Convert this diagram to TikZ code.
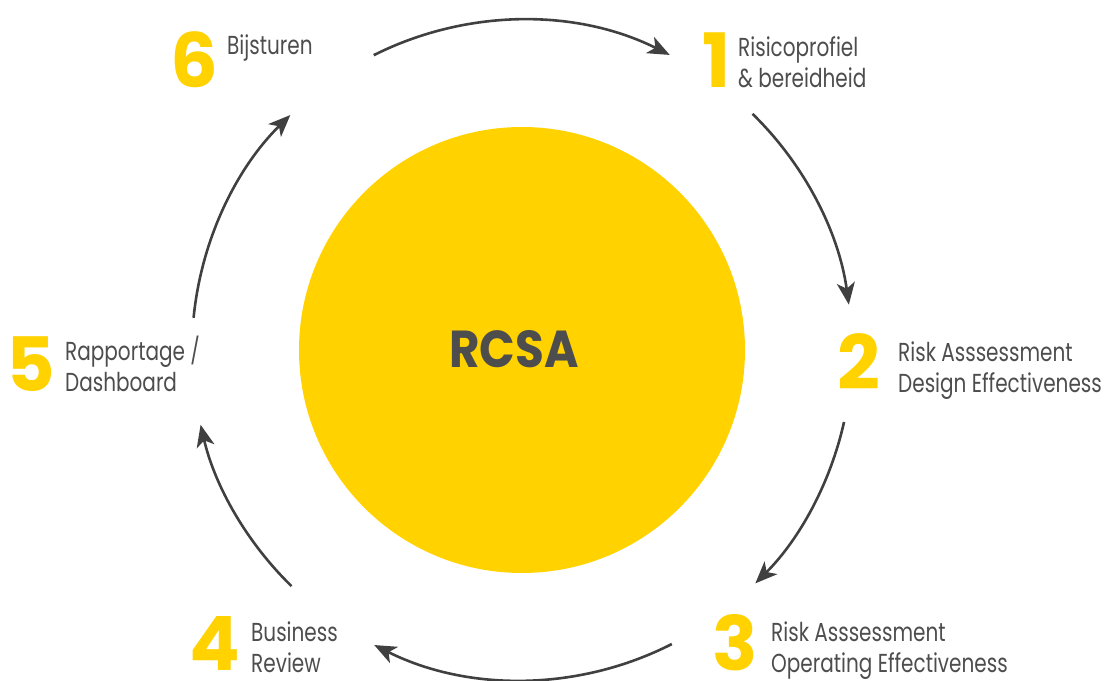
\documentclass[tikz,border=0pt]{standalone}
\usepackage{fontspec}
\setmainfont{Poppins}
\newfontfamily\labelfont{Poppins}[FakeStretch=0.77]
\newfontfamily\titlefont{Poppins}[FakeStretch=0.9]
\usetikzlibrary{arrows.meta}
\definecolor{rcsayellow}{HTML}{FFD200}
\definecolor{ink}{HTML}{4D4D4D}
\definecolor{arrowink}{HTML}{404040}
\begin{document}
\begin{tikzpicture}[x=1pt,y=1pt,
  stepnum/.style={anchor=base west, inner sep=0pt, text=rcsayellow,
    font=\fontsize{75}{75}\selectfont\bfseries},
  steplabel/.style={anchor=base west, inner sep=0pt, text=ink, align=left,
    font=\labelfont\fontsize{26}{31}\selectfont},
  cyclearrow/.style={draw=arrowink, line width=2.6pt,
    -{Stealth[length=22pt,width=18pt,inset=6pt]}}]
\useasboundingbox (0,0) rectangle (1110,680);
\coordinate (c) at (522,330);

% central disc and title
\node[circle, fill=rcsayellow, minimum size=446pt, inner sep=0pt] (hub) at (c) {};
\node[text=ink, inner sep=0pt, font=\titlefont\fontsize{52}{52}\selectfont\bfseries] (title) at (514,331) {RCSA};

% step numbers
\node[stepnum] (n6) at (170,592) {6};
\node[stepnum] (n1) at (702,592) {1};
\node[stepnum] (n2) at (837,290) {2};
\node[stepnum] (n5) at (6,288) {5};
\node[stepnum] (n4) at (189,10) {4};
\node[stepnum] (n3) at (712,10) {3};

% step labels (anchored on the baseline of their last line)
\node[steplabel] (l6) at (227,625) {Bijsturen};
\node[steplabel] (l1) at (738,592) {Risicoprofiel\\\& bereidheid};
\node[steplabel] (l2) at (898,287) {Risk Asssessment\\Design Effectiveness};
\node[steplabel] (l5) at (65,288) {Rapportage /\\Dashboard};
\node[steplabel] (l4) at (251,8) {Business\\Review};
\node[steplabel] (l3) at (771,8) {Risk Asssessment\\Operating Effectiveness};

% cycle arrows on a ring around the disc
\coordinate (s61) at ([shift={(116.7:330pt)}]c);
\coordinate (s12) at ([shift={(45.7:330pt)}]c);
\coordinate (s23) at ([shift={(-12.6:330pt)}]c);
\coordinate (s34) at ([shift={(-63:330pt)}]c);
\coordinate (s45) at ([shift={(-134.3:330pt)}]c);
\coordinate (s56) at ([shift={(174.4:330pt)}]c);
\draw[cyclearrow] (s61) arc[start angle=116.7, end angle=63.4, radius=330pt];
\draw[cyclearrow] (s12) arc[start angle=45.7, end angle=7.9, radius=330pt];
\draw[cyclearrow] (s23) arc[start angle=-12.6, end angle=-45, radius=330pt];
\draw[cyclearrow] (s34) arc[start angle=-63, end angle=-116.6, radius=330pt];
\draw[cyclearrow] (s45) arc[start angle=-134.3, end angle=-166.9, radius=330pt];
\draw[cyclearrow] (s56) arc[start angle=174.4, end angle=134.6, radius=330pt];
\end{tikzpicture}
\end{document}
